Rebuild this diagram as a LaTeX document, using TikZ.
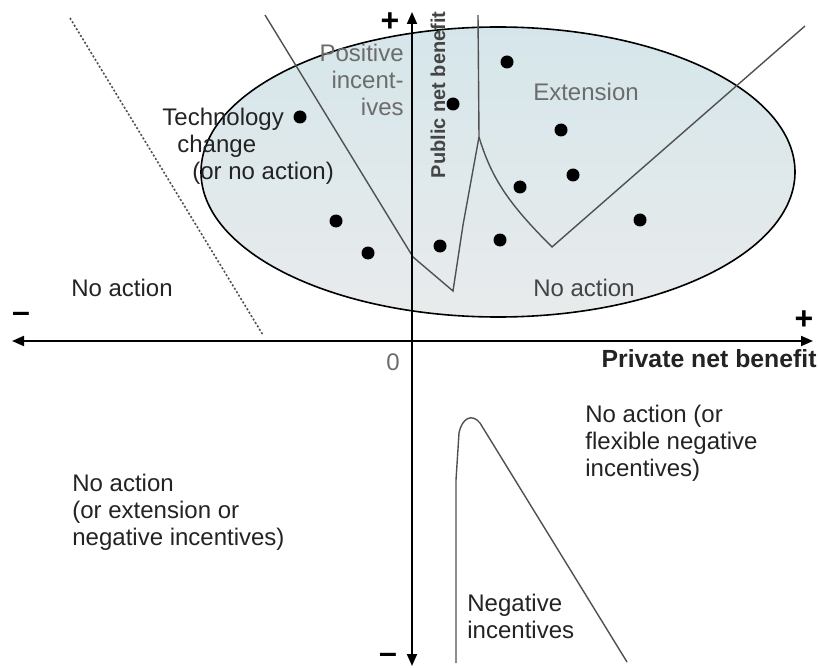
\documentclass[tikz,border=0pt]{standalone}
\usepackage{fontspec}
\setmainfont{Liberation Sans}
\usetikzlibrary{arrows.meta}

\definecolor{ovaltop}{RGB}{213,230,234}
\definecolor{ovalbottom}{RGB}{233,235,236}
\definecolor{curvegray}{RGB}{80,80,80}
\definecolor{insidegray}{RGB}{108,108,108}
\definecolor{textdark}{RGB}{35,35,35}

\begin{document}
\begin{tikzpicture}[x=0.5pt, y=-0.5pt,
    region/.style={font=\fontsize{12}{13.5}\selectfont, text=textdark, inner sep=0pt, align=left},
    sign/.style={font=\fontsize{16}{16}\selectfont\bfseries, inner sep=0pt},
    boundary/.style={curvegray, line width=0.7pt},
    axis/.style={line width=1pt, {Triangle[length=6pt,width=5pt]}-{Triangle[length=6pt,width=5pt]}}]
    \useasboundingbox (0,0) rectangle (818,668);

    % Oval
    \draw[line width=0.8pt, top color=ovaltop, bottom color=ovalbottom] (498,172) ellipse [x radius=297, y radius=145];

    % Boundaries
    \draw[boundary] (265,15) -- (413,257) -- (453,291) -- (463,225) -- (479,137);
    \draw[boundary] (478,15) -- (479,137);
    \draw[boundary] (479,137) .. controls (492,180) and (510,205) .. (552,247) -- (805,26);
    \draw[boundary, line width=0.8pt, dash pattern=on 1pt off 1pt] (70,18) -- (263,335);
    \draw[boundary] (456,663) -- (456,480) -- (459,433) .. controls (462,418) and (472,413) .. (480,423) -- (627,662);

    % Axes
    \coordinate (west) at (12,341);
    \coordinate (east) at (813,341);
    \coordinate (south) at (412,666);
    \coordinate (north) at (412,12);
    \draw[axis] (west) -- (east);
    \draw[axis] (south) -- (north);

    % Dots
    \foreach \x/\y in {507/62, 453/104, 300/117, 561/130, 573/175, 520/187, 336/221, 640/220, 368/253, 440/246, 500/240}
        \fill (\x,\y) circle [radius=6.5];

    % Signs
    \node[sign] (plusx) at (804,320) {+};
    \node[sign] (minusx) at (21,317) {--};
    \node[sign] (plusy) at (390,22) {+};
    \node[sign] (minusy) at (388,658) {--};
    \node[region, text=insidegray] (zero) at (393,362) {0};

    % Axis titles
    \node[font=\fontsize{12.4}{14}\selectfont\bfseries, text=textdark, anchor=east, inner sep=0pt] (xtitle) at (817,359) {Private net benefit};
    \node[font=\fontsize{10}{12}\selectfont\bfseries, text=textdark!85, rotate=90, inner sep=0pt] (ytitle) at (438,95) {Public net benefit};

    % Regions
    \node[region, anchor=west] (tech) at (162,146) {Technology\\\hspace*{7.5pt}change\\\hspace*{15pt}(or no action)};
    \node[region, text=insidegray, align=right, anchor=east] (posinc) at (404,80) {Positive\\incent-\\ives};
    \node[region, text=insidegray] (ext) at (586,92) {Extension};
    \node[region, text=textdark!85] (noactin) at (584,288) {No action};
    \node[region] (noactout) at (122,288) {No action};
    \node[region, anchor=west] (noactflex) at (585,443) {No action (or\\flexible negative\\incentives)};
    \node[region, anchor=west] (noactext) at (72,512) {No action\\(or extension or\\negative incentives)};
    \node[region, anchor=west] (neginc) at (467,616) {Negative\\incentives};
\end{tikzpicture}
\end{document}
